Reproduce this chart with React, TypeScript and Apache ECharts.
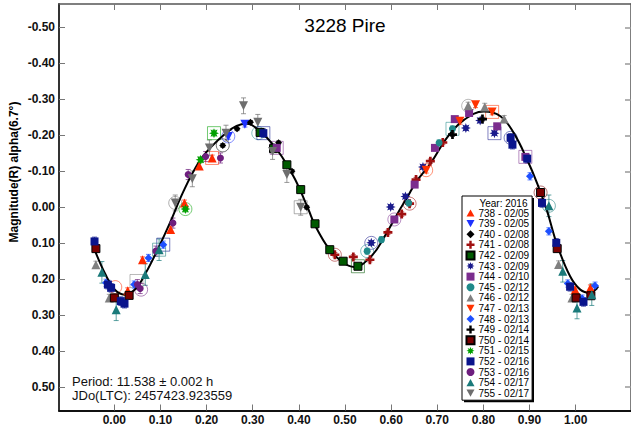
import React, { useEffect, useRef } from "react";
import * as echarts from "echarts";

const titleText = "3228 Pire";
const yAxisTitle = "Magnitude(R) alpha(6.7°)";
const periodText = "Period: 11.538 ± 0.002 h";
const jdText = "JDo(LTC): 2457423.923559";
const legendHeader = "Year: 2016";

const phaseTicks = [0, 0.1, 0.2, 0.3, 0.4, 0.5, 0.6, 0.7, 0.8, 0.9, 1.0];
const magTicks = [-0.5, -0.4, -0.3, -0.2, -0.1, 0, 0.1, 0.2, 0.3, 0.4, 0.5];

const sessionNames = [
  "738 - 02/05", "739 - 02/05", "740 - 02/08", "741 - 02/08", "742 - 02/09", "743 - 02/09",
  "744 - 02/10", "745 - 02/12", "746 - 02/12", "747 - 02/13", "748 - 02/13", "749 - 02/14",
  "750 - 02/14", "751 - 02/15", "752 - 02/16", "753 - 02/16", "754 - 02/17", "755 - 02/17",
];

// [phase, magnitude]
const s738 = [[0.029, 0.232], [0.061, 0.146], [0.122, 0.062], [0.152, -0.012], [0.184, -0.115], [0.212, -0.137], [0.999, 0.229], [1.032, 0.224]];
const s739 = [[0.283, -0.231], [0.247, -0.197]];
const s740 = [[0.295, -0.236], [0.266, -0.218], [0.235, -0.172], [0.356, -0.179], [0.385, -0.1], [0.417, 0.0]];
const s741 = [[0.478, 0.132], [0.518, 0.138], [0.554, 0.146], [0.593, 0.07], [0.623, 0.019], [0.64, -0.01], [0.654, -0.077], [0.685, -0.128], [0.712, -0.18]];
const s742 = [[0.316, -0.208], [0.345, -0.163], [0.374, -0.118], [0.404, -0.049], [0.435, 0.046], [0.467, 0.118], [0.496, 0.15], [0.528, 0.164]];
const s743 = [[0.557, 0.099], [0.599, -0.001], [0.631, -0.03], [0.669, -0.112], [0.762, -0.22], [0.793, -0.241], [0.824, -0.206]];
const s744 = [[0.352, -0.165], [0.607, 0.034], [0.651, -0.063], [0.695, -0.165], [0.738, -0.245], [0.769, -0.262], [0.83, -0.225], [0.891, -0.14]];
const s745 = [[0.548, 0.122], [0.579, 0.09], [0.638, -0.012], [0.704, -0.179], [0.733, -0.218]];
const s746 = [[-0.04, 0.16], [-0.011, 0.252], [0.767, -0.282], [0.803, -0.279], [0.845, -0.245], [0.963, 0.159], [0.992, 0.252]];
const s747 = [[0.676, -0.103], [0.749, -0.239], [0.783, -0.285], [0.819, -0.265]];
const s748 = [[-0.018, 0.21], [0.043, 0.215], [0.074, 0.141], [0.106, 0.104], [0.901, -0.086], [0.942, 0.067], [0.983, 0.212], [1.014, 0.254], [1.042, 0.218]];
const s749 = [[0.733, -0.202], [0.798, -0.245]];
const s750 = [[-0.04, 0.115], [0.0, 0.252], [0.032, 0.245], [0.924, -0.041], [0.96, 0.115], [1.001, 0.252], [1.033, 0.246]];
const s751 = [[0.154, 0.005], [0.187, -0.132], [0.216, -0.206]];
const s752 = [[-0.043, 0.095], [-0.014, 0.215], [-0.007, 0.224], [0.014, 0.261], [0.022, 0.268], [0.323, -0.206], [0.859, -0.193], [0.863, -0.174], [0.895, -0.135], [0.927, -0.012], [0.958, 0.099], [0.988, 0.221], [1.017, 0.263]];
const s753 = [[0.05, 0.215], [0.056, 0.226], [0.09, 0.122], [0.127, 0.044], [0.16, -0.091], [0.198, -0.141], [0.23, -0.137]];
const s754 = [[-0.027, 0.181], [0.004, 0.285], [0.067, 0.187], [0.097, 0.118], [0.942, -0.004], [0.972, 0.178], [1.003, 0.28], [1.035, 0.243]];
const s755 = [[0.132, -0.012], [0.169, -0.079], [0.206, -0.165], [0.242, -0.206], [0.28, -0.282], [0.311, -0.236], [0.343, -0.155], [0.374, -0.091], [0.404, 0.0]];

const sessionPoints = [s738, s739, s740, s741, s742, s743, s744, s745, s746, s747, s748, s749, s750, s751, s752, s753, s754, s755];
const sessionErr = [0.008, 0.008, 0.005, 0.006, 0.006, 0.006, 0.006, 0.008, 0.01, 0.008, 0.01, 0.005, 0.006, 0.008, 0.012, 0.014, 0.03, 0.022];

// Fourier fit curve
const fitPhase = [-0.043, -0.02, 0.0, 0.022, 0.045, 0.068, 0.097, 0.12, 0.15, 0.183, 0.21, 0.241, 0.265, 0.2875, 0.32, 0.34, 0.363, 0.392, 0.421, 0.435, 0.464, 0.492, 0.52, 0.557, 0.586, 0.615, 0.636, 0.654, 0.686, 0.722, 0.758, 0.801, 0.837, 0.866, 0.895, 0.917, 0.938, 0.96, 0.988, 1.01, 1.031, 1.049];
const fitMag = [0.118, 0.185, 0.228, 0.243, 0.228, 0.183, 0.109, 0.045, -0.045, -0.125, -0.168, -0.205, -0.226, -0.232, -0.206, -0.18, -0.141, -0.077, 0.007, 0.05, 0.113, 0.15, 0.166, 0.136, 0.081, 0.015, -0.03, -0.07, -0.123, -0.195, -0.243, -0.266, -0.253, -0.206, -0.132, -0.065, 0.01, 0.105, 0.192, 0.229, 0.238, 0.22];

// hollow highlight markers: [session index, phase, magnitude, shape]
const rings: [number, number, number, string][] = [
  [0, 0.002, 0.222, "circle"], [15, 0.058, 0.229, "circle"], [8, 0.048, 0.205, "rect"],
  [14, 0.106, 0.104, "rect"], [16, 0.097, 0.118, "rect"], [17, 0.132, -0.012, "circle"],
  [13, 0.154, 0.005, "circle"], [0, 0.212, -0.137, "rect"], [13, 0.216, -0.206, "rect"],
  [1, 0.247, -0.197, "circle"], [2, 0.235, -0.172, "circle"], [14, 0.323, -0.206, "rect"],
  [7, 0.312, -0.206, "circle"], [6, 0.352, -0.165, "rect"], [17, 0.404, 0.0, "rect"],
  [3, 0.478, 0.132, "circle"], [4, 0.528, 0.164, "rect"], [7, 0.548, 0.122, "circle"],
  [5, 0.557, 0.099, "circle"], [6, 0.607, 0.034, "circle"], [3, 0.64, -0.01, "circle"],
  [9, 0.676, -0.103, "circle"], [7, 0.733, -0.218, "rect"], [8, 0.767, -0.282, "circle"],
  [9, 0.819, -0.265, "rect"], [5, 0.824, -0.206, "rect"], [14, 0.859, -0.193, "circle"],
  [6, 0.891, -0.14, "rect"], [12, 0.924, -0.041, "circle"], [16, 0.942, -0.004, "circle"],
];

// ---- styles ----
const triUp = "path://M5,0L10,9L0,9Z";
const triDown = "path://M0,0L10,0L5,9Z";
const plus = "path://M3.5,0H6.5V3.5H10V6.5H6.5V10H3.5V6.5H0V3.5H3.5Z";
function starPath() {
  const pts: string[] = [];
  for (let i = 0; i < 16; i++) {
    const r = i % 2 === 0 ? 5 : 2.6;
    const a = (Math.PI * 2 * i) / 16 - Math.PI / 2;
    pts.push((5 + r * Math.cos(a)).toFixed(2) + "," + (5 + r * Math.sin(a)).toFixed(2));
  }
  return "path://M" + pts.join("L") + "Z";
}
const star = starPath();

const sessionColors = [
  "#ff2a00", "#1e32ff", "#000000", "#a01010", "#005a00", "#1a1a8c",
  "#7b2d8e", "#1f8a8a", "#808080", "#ff3300", "#1e50ff", "#000000",
  "#7a0000", "#00a000", "#0a148c", "#6e1e7e", "#1a7a7a", "#6e6e6e",
];
const sessionSymbols = [
  triUp, triDown, "diamond", plus, "rect", star,
  "rect", "circle", triUp, triDown, "diamond", plus,
  "rect", star, "rect", "circle", triUp, triDown,
];
const sessionSizes = [9, 9, 7, 9, 8, 10, 8, 7, 9, 9, 8, 9, 8, 10, 8, 7, 9, 9];
const sessionBorder = [null, null, null, null, "#000", null, null, null, null, null, null, null, "#000", null, null, null, null, null];

export default function App() {
  const ref = useRef<HTMLDivElement>(null);
  useEffect(() => {
    if (!ref.current) return;
    const chart = echarts.init(ref.current, null, { renderer: "svg" });
    const font = "Arial, 'Liberation Sans', sans-serif";

    const scatterSeries = sessionNames.map((name, i) => ({
      type: "scatter",
      name,
      data: sessionPoints[i],
      symbol: sessionSymbols[i],
      symbolSize: sessionSizes[i],
      z: 3,
      itemStyle: {
        color: sessionColors[i],
        borderColor: sessionBorder[i] || sessionColors[i],
        borderWidth: sessionBorder[i] ? 1 : 0,
        opacity: 1,
      },
    }));

    const errData: number[][] = [];
    sessionPoints.forEach((pts, i) => pts.forEach((p) => errData.push([p[0], p[1], sessionErr[i], i])));

    const ringSeries = ["circle", "rect"].map((shape) => ({
      type: "scatter",
      name: "ring-" + shape,
      symbol: shape,
      symbolSize: 13,
      z: 1,
      silent: true,
      data: rings
        .filter((r) => r[3] === shape)
        .map((r) => ({
          value: [r[1], r[2]],
          itemStyle: { color: "rgba(255,255,255,0)", borderColor: sessionColors[r[0]], borderWidth: 1, opacity: 0.55 },
        })),
    }));

    const fitData = fitPhase.map((p, i) => [p, fitMag[i]]);

    const option: any = {
      animation: false,
      backgroundColor: "#fff",
      grid: { left: 59, right: -3, top: 4, bottom: 18.5, containLabel: false },
      xAxis: [
        {
          type: "value", position: "bottom", min: -0.12, max: 1.12,
          splitLine: { show: false },
          axisLine: { show: true, onZero: false, lineStyle: { color: "#111", width: 2 } },
          axisTick: { show: true, inside: true, length: 6, customValues: phaseTicks, lineStyle: { color: "#777", width: 1 } },
          axisLabel: { customValues: phaseTicks, formatter: (v: number) => v.toFixed(2), fontSize: 12, fontWeight: "bold", color: "#111", fontFamily: font, margin: 3 },
        },
        {
          type: "value", position: "top", min: -0.12, max: 1.12,
          splitLine: { show: false },
          axisLine: { show: true, onZero: false, lineStyle: { color: "#555", width: 1.5 } },
          axisTick: { show: true, inside: true, length: 6, customValues: phaseTicks, lineStyle: { color: "#777", width: 1 } },
          axisLabel: { show: false },
        },
      ],
      yAxis: [
        {
          type: "value", position: "left", inverse: true, min: -0.565, max: 0.565,
          splitLine: { show: false },
          axisLine: { show: true, onZero: false, lineStyle: { color: "#333", width: 2 } },
          axisTick: { show: true, inside: true, length: 6, customValues: magTicks, lineStyle: { color: "#777", width: 1 } },
          axisLabel: { customValues: magTicks, formatter: (v: number) => v.toFixed(2), fontSize: 12, fontWeight: "bold", color: "#111", fontFamily: font, margin: 4 },
        },
        {
          type: "value", position: "right", inverse: true, min: -0.565, max: 0.565,
          splitLine: { show: false },
          axisLine: { show: true, onZero: false, lineStyle: { color: "#555", width: 1.5 } },
          axisTick: { show: true, inside: true, length: 6, customValues: magTicks, lineStyle: { color: "#999", width: 1.5 } },
          axisLabel: { show: false },
        },
      ],
      legend: {
        data: sessionNames,
        orient: "vertical",
        left: 462,
        top: 196,
        itemWidth: 8,
        itemHeight: 8,
        itemGap: 0.6,
        selectedMode: false,
        padding: [12, 3, 2, 3.5],
        backgroundColor: "#fff",
        borderColor: "#000",
        borderWidth: 1,
        z: 6,
        textStyle: { fontSize: 10, fontFamily: font, color: "#000", lineHeight: 10, padding: [0, 0, 0, -1] },
      },
      graphic: [
        { type: "rect", left: 464, top: 198, z: 5, shape: { width: 70, height: 204.2 }, style: { fill: "#000" } },
        { type: "text", x: 527.5, y: 203, z: 100, zlevel: 0, style: { text: legendHeader, fontSize: 10, fontFamily: font, fill: "#000", align: "right", verticalAlign: "middle" } },
        { type: "text", x: 345, y: 25, style: { text: titleText, fontSize: 19, fontFamily: font, fill: "#000", align: "center", verticalAlign: "middle" } },
        { type: "text", x: 14, y: 172, rotation: Math.PI / 2, style: { text: yAxisTitle, fontSize: 12, fontWeight: "bold", fontFamily: font, fill: "#000", align: "center", verticalAlign: "middle" } },
        { type: "text", x: 72, y: 381, style: { text: periodText, fontSize: 13, fontFamily: font, fill: "#111", align: "left", verticalAlign: "middle" } },
        { type: "text", x: 72, y: 395, style: { text: jdText, fontSize: 13, fontFamily: font, fill: "#111", align: "left", verticalAlign: "middle" } },
      ],
      series: [
        {
          type: "custom",
          name: "errors",
          silent: true,
          z: 1,
          data: errData,
          encode: { x: 0, y: 1 },
          renderItem: (params: any, api: any) => {
            const x = api.value(0), y = api.value(1), e = api.value(2);
            const c = sessionColors[api.value(3)];
            const p1 = api.coord([x, y - e]);
            const p2 = api.coord([x, y + e]);
            const st = { stroke: c, lineWidth: 1, opacity: 0.7 };
            return {
              type: "group",
              children: [
                { type: "line", shape: { x1: p1[0], y1: p1[1], x2: p2[0], y2: p2[1] }, style: st },
                { type: "line", shape: { x1: p1[0] - 2.5, y1: p1[1], x2: p1[0] + 2.5, y2: p1[1] }, style: st },
                { type: "line", shape: { x1: p2[0] - 2.5, y1: p2[1], x2: p2[0] + 2.5, y2: p2[1] }, style: st },
              ],
            };
          },
        },
        ...ringSeries,
        {
          type: "line",
          name: "fit",
          data: fitData,
          smooth: 0.4,
          showSymbol: false,
          symbol: "none",
          z: 2,
          lineStyle: { color: "#000", width: 2 },
        },
        ...scatterSeries,
      ],
    };
    chart.setOption(option);
    return () => chart.dispose();
  }, []);
  return <div ref={ref} style={{ position: "fixed", left: 0, top: 0, width: 631, height: 429 }} />;
}
